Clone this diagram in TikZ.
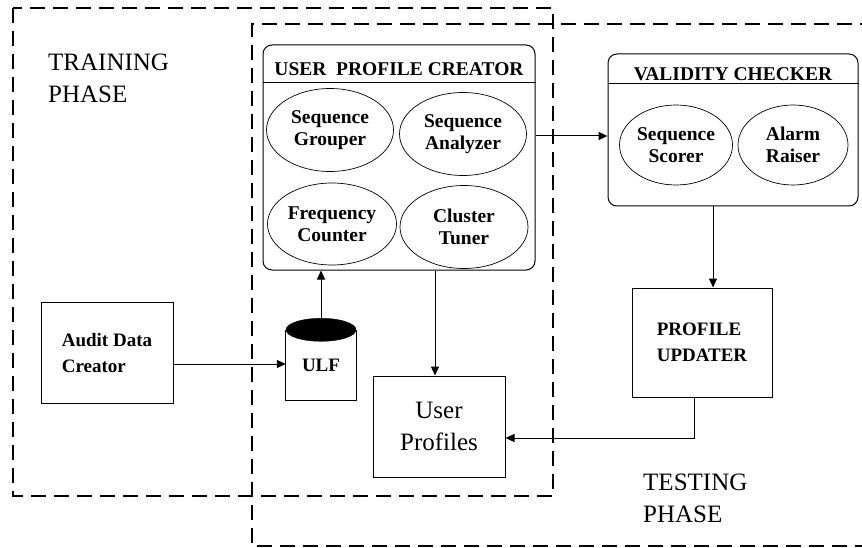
\documentclass[tikz,border=0pt]{standalone}
\usepackage{fontspec}
\setmainfont{Liberation Serif}
\usetikzlibrary{shapes.geometric,arrows.meta}
\begin{document}
\begin{tikzpicture}[x=1pt,y=-1pt,
	phase/.style={dash pattern=on 15pt off 8pt,line width=1.1pt},
	module/.style={draw,rounded corners=9pt,line width=1pt},
	box/.style={draw,line width=1pt,align=left,font=\fontsize{19}{26}\selectfont\bfseries},
	part/.style={ellipse,draw,line width=0.7pt,align=center,inner sep=0,
		font=\fontsize{19.5}{22}\selectfont\bfseries},
	title/.style={font=\fontsize{19.5}{22}\selectfont\bfseries},
	phaselabel/.style={anchor=west,inner sep=0,align=left,font=\fontsize{25}{32}\selectfont},
	arr/.style={-{Triangle[length=9pt,width=8pt]},line width=1pt}]
\useasboundingbox (0,0) rectangle (862,548);
\draw[phase] (13,8) rectangle (553,496);
\draw[phase] (875,24) -- (252,24) -- (252,546) -- (875,546);
\node[phaselabel] (train) at (48,78) {TRAINING\\PHASE};
\node[phaselabel] (test) at (643,498) {TESTING\\PHASE};
\node[module,minimum width=272,minimum height=225] (upc) at (399,157.5) {};
\draw[line width=1pt] ([yshift=-38]upc.north west) -- ([yshift=-38]upc.north east);
\node[title] (upct) at ([yshift=-25]upc.north) {USER\ \ PROFILE CREATOR};
\node[part,minimum width=127,minimum height=83] (sg) at (330,130) {Sequence\\Grouper};
\node[part,minimum width=127,minimum height=83] (sa) at (463,134) {Sequence\\Analyzer};
\node[part,minimum width=129,minimum height=82] (fc) at (332,224) {Frequency\\Counter};
\node[part,minimum width=128,minimum height=83] (ct) at (464,227) {Cluster\\Tuner};
\node[module,minimum width=250,minimum height=152] (vc) at (733,130) {};
\draw[line width=1pt] ([yshift=-30]vc.north west) -- ([yshift=-30]vc.north east);
\node[title] (vct) at ([yshift=-21]vc.north) {VALIDITY CHECKER};
\node[part,minimum width=113,minimum height=80] (ss) at (676,145) {Sequence\\Scorer};
\node[part,minimum width=110,minimum height=80] (ar) at (793,145) {Alarm\\Raiser};
\node[box,minimum width=140,minimum height=109] (pu) at (702,342.5) {PROFILE\\UPDATER};
\node[box,minimum width=132,minimum height=101] (adc) at (107,352.5) {Audit Data\\Creator};
\node[box,minimum width=132,minimum height=101,align=center,
	font=\fontsize{25}{32}\selectfont] (up) at (439,426.5) {User\\Profiles};
\node[minimum width=70,minimum height=70,inner sep=0,
	font=\fontsize{19}{22}\selectfont\bfseries] (ulf) at (321,365) {ULF};
\draw[line width=1pt] (ulf.north west) -- (ulf.south west) -- (ulf.south east) -- (ulf.north east);
\fill[draw] (ulf.north) ellipse [x radius=35pt,y radius=11.5pt];
\draw[arr] (upc.east |- 0,136) -- (vc.west |- 0,136);
\draw[arr] (vc.south -| 713,0) -- (pu.north -| 713,0);
\draw[arr] (pu.south -| 694,0) |- (up.east |- 0,438);
\draw[arr] (adc.east |- 0,364) -- (ulf.west |- 0,364);
\draw[arr] ([yshift=11.5]ulf.north) -- (upc.south -| ulf.north);
\draw[arr] (upc.south -| 435,0) -- (up.north -| 435,0);
\end{tikzpicture}
\end{document}
